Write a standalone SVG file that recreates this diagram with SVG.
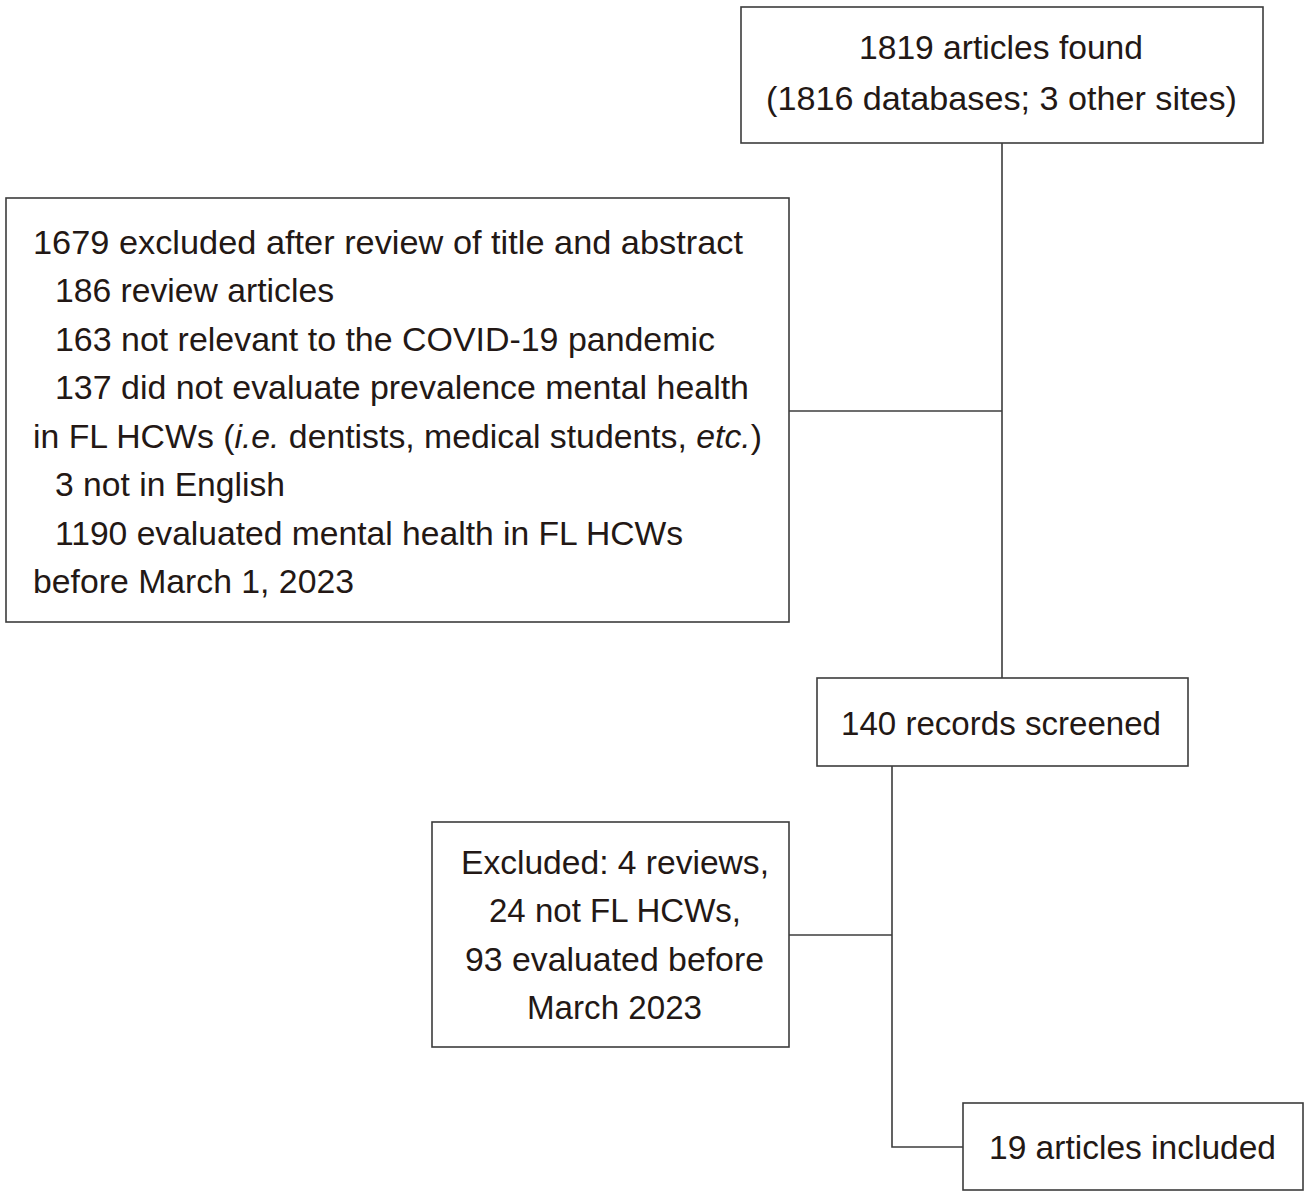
<svg xmlns="http://www.w3.org/2000/svg" width="1309" height="1199" viewBox="0 0 1309 1199">
<style>
.box{fill:#fff;stroke:#3c3c3c;stroke-width:1.6}
.ln{fill:none;stroke:#3c3c3c;stroke-width:1.6}
text{font-family:"Liberation Sans",Arial,sans-serif;font-size:33.5px;fill:#231815}
</style>
<rect width="1309" height="1199" fill="#fff"/>
<g id="connectors">
<path class="ln" d="M1002 143V678"/>
<path class="ln" d="M789 411H1002"/>
<path class="ln" d="M892 766V1147H963"/>
<path class="ln" d="M789 935H892"/>
</g>
<g id="found">
<rect class="box" x="741" y="7" width="522" height="136"/>
<text x="859" y="59" textLength="284" lengthAdjust="spacingAndGlyphs">1819 articles found</text>
<text x="766" y="110" textLength="471" lengthAdjust="spacingAndGlyphs">(1816 databases; 3 other sites)</text>
</g>
<g id="excluded1">
<rect class="box" x="6" y="198" width="783" height="424"/>
<text x="33" y="254" textLength="710" lengthAdjust="spacingAndGlyphs">1679 excluded after review of title and abstract</text>
<text x="55" y="302" textLength="279" lengthAdjust="spacingAndGlyphs">186 review articles</text>
<text x="55" y="351" textLength="660" lengthAdjust="spacingAndGlyphs">163 not relevant to the COVID-19 pandemic</text>
<text x="55" y="399" textLength="694" lengthAdjust="spacingAndGlyphs">137 did not evaluate prevalence mental health</text>
<text x="33" y="448" textLength="729" lengthAdjust="spacingAndGlyphs">in FL HCWs (<tspan font-style="italic">i.e.</tspan> dentists, medical students, <tspan font-style="italic">etc.</tspan>)</text>
<text x="55" y="496" textLength="230" lengthAdjust="spacingAndGlyphs">3 not in English</text>
<text x="55" y="545" textLength="628" lengthAdjust="spacingAndGlyphs">1190 evaluated mental health in FL HCWs</text>
<text x="33" y="593" textLength="321" lengthAdjust="spacingAndGlyphs">before March 1, 2023</text>
</g>
<g id="screened">
<rect class="box" x="817" y="678" width="371" height="88"/>
<text x="841" y="735" textLength="320" lengthAdjust="spacingAndGlyphs">140 records screened</text>
</g>
<g id="excluded2">
<rect class="box" x="432" y="822" width="357" height="225"/>
<text x="461" y="874" textLength="308" lengthAdjust="spacingAndGlyphs">Excluded: 4 reviews,</text>
<text x="489" y="922" textLength="252" lengthAdjust="spacingAndGlyphs">24 not FL HCWs,</text>
<text x="465" y="971" textLength="299" lengthAdjust="spacingAndGlyphs">93 evaluated before</text>
<text x="527" y="1019" textLength="175" lengthAdjust="spacingAndGlyphs">March 2023</text>
</g>
<g id="included">
<rect class="box" x="963" y="1103" width="340" height="87"/>
<text x="989" y="1159" textLength="287" lengthAdjust="spacingAndGlyphs">19 articles included</text>
</g>
</svg>
